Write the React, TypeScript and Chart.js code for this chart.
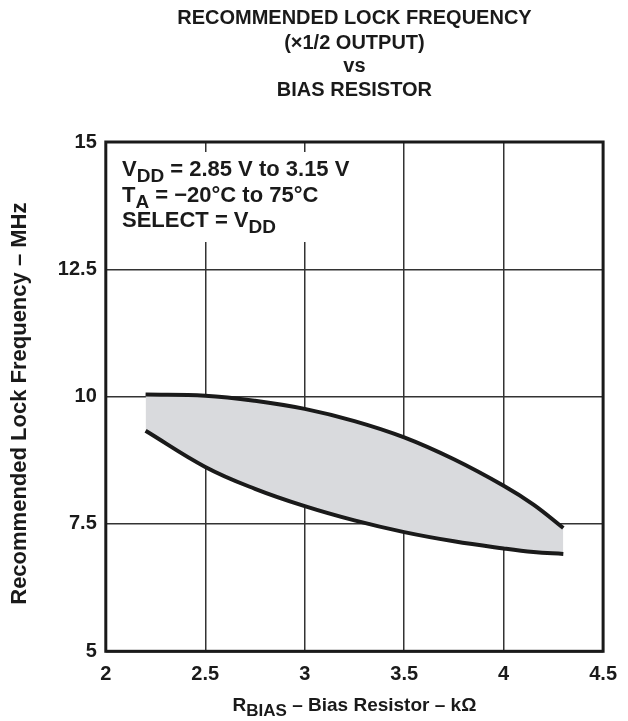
import { useEffect, useRef } from 'react';
import { Chart, registerables } from 'chart.js';

Chart.register(...registerables);

const FONT = '"Liberation Sans", Arial, Helvetica, sans-serif';

// Data
const biasResistor = [2.2, 2.5, 2.75, 3, 3.25, 3.5, 3.75, 4, 4.15, 4.3];
const upperFreq = [10.04, 10.02, 9.92, 9.76, 9.52, 9.2, 8.77, 8.25, 7.88, 7.42];
const lowerFreq = [9.33, 8.62, 8.19, 7.85, 7.57, 7.34, 7.16, 7.02, 6.95, 6.91];

const xTicks = [2, 2.5, 3, 3.5, 4, 4.5];
const xTickLabels = ['2', '2.5', '3', '3.5', '4', '4.5'];
const yTicks = [5, 7.5, 10, 12.5, 15];
const yTickLabels = ['5', '7.5', '10', '12.5', '15'];

const titleLines = ['RECOMMENDED LOCK FREQUENCY', '(\u00d71/2 OUTPUT)', 'vs', 'BIAS RESISTOR'];

type Run = { t: string; sub?: boolean };

const noteLines: Run[][] = [
  [{ t: 'V' }, { t: 'DD', sub: true }, { t: ' = 2.85 V to 3.15 V' }],
  [{ t: 'T' }, { t: 'A', sub: true }, { t: ' = \u221220\u00b0C to 75\u00b0C' }],
  [{ t: 'SELECT = V' }, { t: 'DD', sub: true }],
];
const xTitle: Run[] = [{ t: 'R' }, { t: 'BIAS', sub: true }, { t: ' \u2013 Bias Resistor \u2013 k\u03a9' }];
const yTitle = 'Recommended Lock Frequency \u2013 MHz';

function drawRuns(ctx: CanvasRenderingContext2D, runs: Run[], x: number, y: number, size: number, align: 'left' | 'center') {
  const subSize = Math.round(size * 0.88);
  const widths = runs.map((r) => {
    ctx.font = `bold ${r.sub ? subSize : size}px ${FONT}`;
    return ctx.measureText(r.t).width;
  });
  const total = widths.reduce((a, b) => a + b, 0);
  let cx = align === 'center' ? x - total / 2 : x;
  ctx.textAlign = 'left';
  ctx.textBaseline = 'alphabetic';
  runs.forEach((r, i) => {
    ctx.font = `bold ${r.sub ? subSize : size}px ${FONT}`;
    ctx.fillText(r.t, cx, r.sub ? y + size * 0.28 : y);
    cx += widths[i];
  });
}

const decorPlugin = {
  id: 'decor',
  beforeDatasetsDraw(chart: any) {
    const ctx = chart.ctx as CanvasRenderingContext2D;
    ctx.save();
    ctx.fillStyle = '#ffffff';
    ctx.fillRect(chart.chartArea.left + 3, 152, 285, 90);
    ctx.restore();
  },
  afterDraw(chart: any) {
    const ctx = chart.ctx as CanvasRenderingContext2D;
    const { left, right, top, bottom } = chart.chartArea;
    ctx.save();
    // frame
    ctx.strokeStyle = '#1a1a1a';
    ctx.lineWidth = 3;
    ctx.strokeRect(left, top, right - left, bottom - top);
    ctx.fillStyle = '#1a1a1a';
    // title
    const cx = (left + right) / 2;
    const base = [24, 49, 72, 96];
    titleLines.forEach((line, i) => {
      drawRuns(ctx, [{ t: line }], cx, base[i], 20, 'center');
    });
    // note
    const nb = [176, 201.5, 226.5];
    noteLines.forEach((runs, i) => drawRuns(ctx, runs, 122, nb[i], 22, 'left'));
    // x title
    drawRuns(ctx, xTitle, cx, 711, 19, 'center');
    // y title
    ctx.translate(26, (top + bottom) / 2 + 7);
    ctx.rotate(-Math.PI / 2);
    ctx.font = `bold 22px ${FONT}`;
    ctx.textAlign = 'center';
    ctx.textBaseline = 'alphabetic';
    ctx.fillText(yTitle, 0, 0);
    ctx.restore();
  },
};

export default function App() {
  const ref = useRef<HTMLCanvasElement | null>(null);
  useEffect(() => {
    document.body.style.margin = '0';
    const canvas = ref.current;
    if (!canvas) return;
    const chart = new Chart(canvas, {
      type: 'line',
      data: {
        datasets: [
          {
            data: biasResistor.map((x, i) => ({ x, y: upperFreq[i] })),
            borderColor: '#1a1a1a',
            borderWidth: 4,
            backgroundColor: 'rgb(217,218,221)',
            fill: '+1',
            pointRadius: 0,
            tension: 0.4,
          },
          {
            data: biasResistor.map((x, i) => ({ x, y: lowerFreq[i] })),
            borderColor: '#1a1a1a',
            borderWidth: 4,
            fill: false,
            pointRadius: 0,
            tension: 0.4,
          },
        ],
      },
      options: {
        animation: false,
        responsive: false,
        layout: { padding: { top: 142, right: 15, left: 0, bottom: 0 } },
        plugins: {
          legend: { display: false },
          tooltip: { enabled: false },
          filler: { drawTime: 'beforeDatasetsDraw' },
        },
        scales: {
          x: {
            type: 'linear',
            min: 2,
            max: 4.5,
            afterBuildTicks: (s: any) => {
              s.ticks = xTicks.map((v) => ({ value: v }));
            },
            afterFit: (s: any) => {
              s.height = 69.7;
            },
            ticks: {
              callback: (v: any) => xTickLabels[xTicks.indexOf(Number(v))] ?? '',
              font: { family: FONT, size: 20, weight: 'bold' },
              color: '#1a1a1a',
              padding: 11,
              maxRotation: 0,
            },
            grid: { color: '#333333', lineWidth: 1.5, drawTicks: false },
            border: { display: false },
          },
          y: {
            type: 'linear',
            min: 5,
            max: 15,
            afterBuildTicks: (s: any) => {
              s.ticks = yTicks.map((v) => ({ value: v }));
            },
            afterFit: (s: any) => {
              s.width = 105.8;
            },
            ticks: {
              callback: (v: any) => yTickLabels[yTicks.indexOf(Number(v))] ?? '',
              font: { family: FONT, size: 20, weight: 'bold' },
              color: '#1a1a1a',
              padding: 9,
            },
            grid: { color: '#333333', lineWidth: 1.5, drawTicks: false },
            border: { display: false },
          },
        },
      },
      plugins: [decorPlugin],
    } as any);
    return () => chart.destroy();
  }, []);
  return <canvas ref={ref} width={628} height={721} style={{ display: 'block' }} />;
}
